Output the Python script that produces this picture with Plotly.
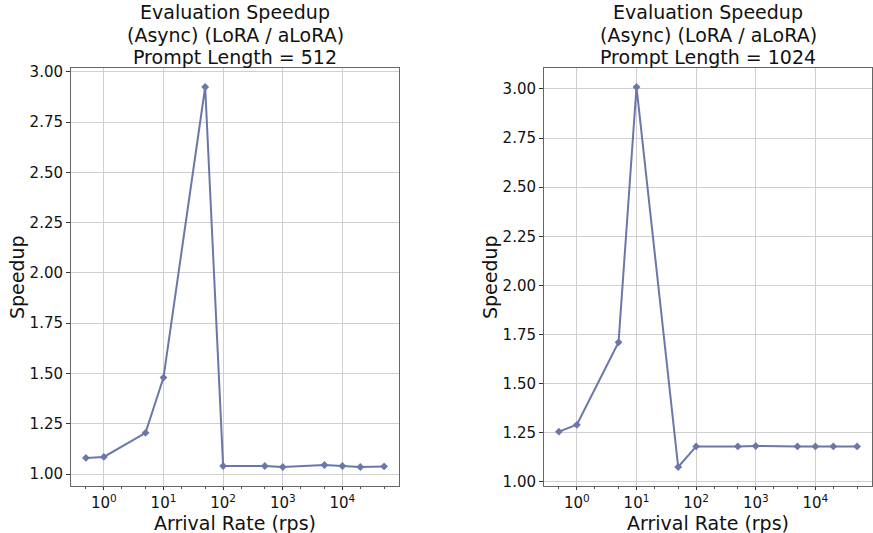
import plotly.graph_objects as go
import numpy as np

arrival_rate = [0.5, 1, 5, 10, 50, 100, 500, 1000, 5000, 10000, 20000, 50000]
speedup_512 = [1.08, 1.085, 1.205, 1.48, 2.925, 1.04, 1.04, 1.035, 1.045, 1.04, 1.035, 1.038]
speedup_1024 = [1.255, 1.29, 1.71, 3.01, 1.075, 1.18, 1.18, 1.182, 1.18, 1.18, 1.18, 1.18]
titles = ["Evaluation Speedup", "(Async) (LoRA / aLoRA)"]
prompt_lengths = [512, 1024]
x_tickvals = [1, 10, 100, 1000, 10000]
x_ticktext = ["10<sup>0</sup>", "10<sup>1</sup>", "10<sup>2</sup>", "10<sup>3</sup>", "10<sup>4</sup>"]
y_tickvals = [1.0, 1.25, 1.5, 1.75, 2.0, 2.25, 2.5, 2.75, 3.0]

W, H = 873, 533
color = "#6a77aa"
font = "DejaVu Sans"

fig = go.Figure()
series = [speedup_512, speedup_1024]
boxes = [(71, 399), (544, 872)]
top_px, bot_px = 68, 486

for i, (ys, (x0, x1)) in enumerate(zip(series, boxes)):
    xa = "x" if i == 0 else "x2"
    ya = "y" if i == 0 else "y2"
    fig.add_trace(go.Scatter(x=arrival_rate, y=ys, mode="lines+markers",
                             line=dict(color=color, width=2),
                             marker=dict(symbol="diamond", size=6, color=color),
                             xaxis=xa, yaxis=ya, showlegend=False))
    lo, hi = min(ys), max(ys)
    pad = 0.05 * (hi - lo)
    lx = np.log10(arrival_rate)
    lpad = 0.05 * (lx.max() - lx.min())
    axkey = "xaxis" if i == 0 else "xaxis2"
    aykey = "yaxis" if i == 0 else "yaxis2"
    fig.layout[axkey] = dict(
        type="log", domain=[x0 / W, x1 / W], anchor=ya,
        range=[lx.min() - lpad, lx.max() + lpad],
        tickvals=x_tickvals, ticktext=x_ticktext,
        ticks="outside", ticklen=3, tickcolor="#333", tickwidth=1,
        showgrid=True, gridcolor="#cfcfcf", gridwidth=1,
        showline=True, linecolor="#666", linewidth=1, mirror=True,
        zeroline=False, automargin=False,
        tickfont=dict(family=font, size=15, color="#111"),
        minor=dict(ticks="outside", ticklen=2, tickcolor="#555", showgrid=False),
    )
    fig.layout[aykey] = dict(
        domain=[1 - bot_px / H, 1 - top_px / H], anchor=xa,
        range=[lo - pad, hi + pad],
        tickvals=y_tickvals, tickformat=".2f",
        ticks="outside", ticklen=4, tickcolor="#333", tickwidth=1,
        showgrid=True, gridcolor="#cfcfcf", gridwidth=1,
        showline=True, linecolor="#666", linewidth=1, mirror=True,
        zeroline=False, automargin=False,
        tickfont=dict(family=font, size=15, color="#111"),
    )
    cx = (x0 + x1) / 2 / W
    lines = titles + [f"Prompt Length = {prompt_lengths[i]}"]
    for j, (t, yc) in enumerate(zip(lines, [12, 35, 57])):
        fig.add_annotation(text=t, x=cx, y=1 - yc / H, xref="paper", yref="paper",
                           showarrow=False, xanchor="center", yanchor="middle",
                           font=dict(family=font, size=19, color="#111"))
    fig.add_annotation(text="Arrival Rate (rps)", x=cx, y=1 - 523 / H, xref="paper", yref="paper",
                       showarrow=False, xanchor="center", yanchor="middle",
                       font=dict(family=font, size=19, color="#111"))
    fig.add_annotation(text="Speedup", x=(x0 - 54) / W, y=1 - 277 / H, xref="paper", yref="paper",
                       showarrow=False, xanchor="center", yanchor="middle", textangle=-90,
                       font=dict(family=font, size=19, color="#111"))

fig.update_layout(width=W, height=H, margin=dict(l=0, r=0, t=0, b=0),
                  plot_bgcolor="white", paper_bgcolor="white")
fig.write_html("out.html", config={"displayModeBar": False},
               post_script="document.body.style.margin='0';document.body.style.overflow='hidden';")
